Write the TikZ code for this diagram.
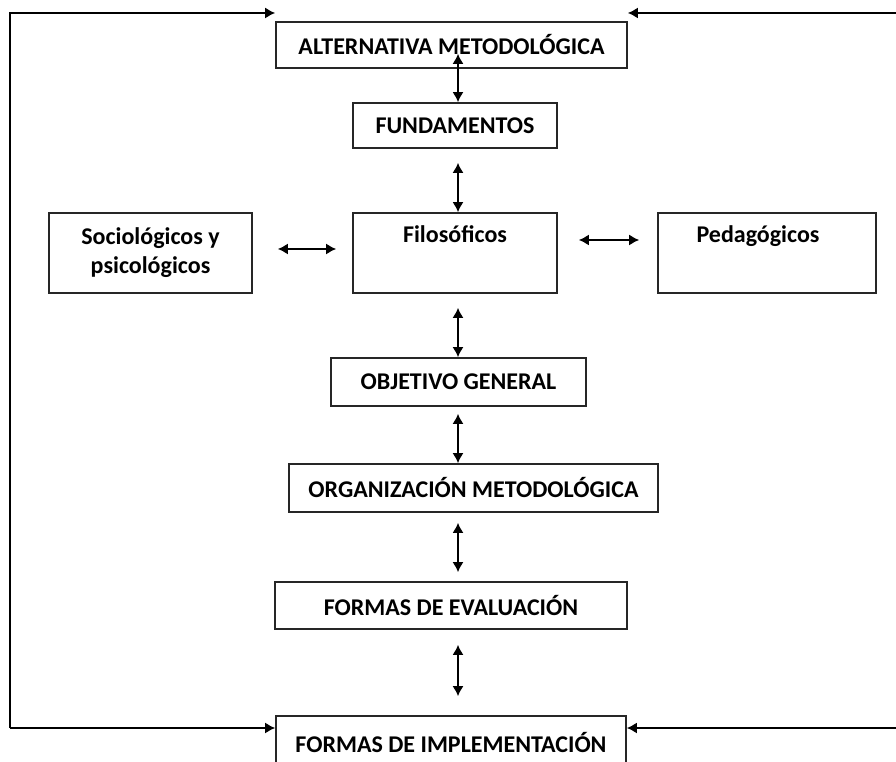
\documentclass[tikz,border=0pt]{standalone}
\usepackage{fontspec}
\setmainfont{Carlito}
\usetikzlibrary{arrows.meta,positioning,calc}

\begin{document}
\begin{tikzpicture}[
  x=1pt,y=1pt,
  every node/.style={font=\bfseries\fontsize{24}{29}\selectfont},
  mbox/.style={draw=black!85,line width=1.6pt,align=center,inner sep=0pt},
  arr/.style={arrows={Latex[length=10pt,width=11pt]-Latex[length=10pt,width=11pt]},line width=1.6pt},
  fback/.style={arrows={-Latex[length=10pt,width=11pt]},line width=1.6pt}
]
\clip (0,0) rectangle (896,761);
\coordinate (axis) at (458,0);
\node[mbox,minimum width=351pt,minimum height=46pt] (alt) at (451.5,716) {ALTERNATIVA METODOLÓGICA};
\node[mbox,minimum width=204pt,minimum height=45pt] (fund) at (455,635.5) {FUNDAMENTOS};
\node[mbox,minimum width=204pt,minimum height=80pt] (filo) at (455,508) {Filosóficos\\\strut};
\node[mbox,minimum width=203pt,minimum height=80pt] (socio) at (150.5,508) {Sociológicos y\\psicológicos};
\node[mbox,minimum width=218pt,minimum height=80pt] (peda) at (767,508) {Pedagógicos\hspace*{18pt}\\\strut};
\node[mbox,minimum width=255pt,minimum height=48pt] (obj) at (458.5,379) {OBJETIVO GENERAL};
\node[mbox,minimum width=369pt,minimum height=48pt] (org) at (473.5,273) {ORGANIZACIÓN METODOLÓGICA};
\node[mbox,minimum width=352pt,minimum height=47pt] (eval) at (451,155.5) {FORMAS DE EVALUACIÓN};
\node[mbox,minimum width=350pt,minimum height=52pt] (impl) at (451,19) {FORMAS DE IMPLEMENTACIÓN};

\draw[arr] ($(alt.south -| axis)+(0,15)$) -- (fund.north -| axis);
\draw[arr,shorten <=14pt] (fund.south -| axis) -- (filo.north -| axis);
\draw[arr,shorten <=14pt] (filo.south -| axis) -- (obj.north -| axis);
\draw[arr,shorten <=7pt] (obj.south -| axis) -- (org.north -| axis);
\draw[arr,shorten <=10pt,shorten >=9pt] (org.south -| axis) -- (eval.north -| axis);
\draw[arr,shorten <=15pt,shorten >=19pt] (eval.south -| axis) -- (impl.north -| axis);
\draw[arr,shorten <=25pt,shorten >=16pt] ($(socio.east)+(0,4)$) -- ($(filo.west)+(0,4)$);
\draw[arr,shorten <=21pt,shorten >=18pt] ($(filo.east)+(0,13)$) -- ($(peda.west)+(0,13)$);

\coordinate (topL) at (10,748);
\coordinate (botL) at (10,33);
\coordinate (topR) at (896,748);
\coordinate (botR) at (896,33);
\draw[fback] (botL) -- (topL) -- (topL -| alt.west);
\draw[fback] (botL) -- (botL -| impl.west);
\draw[fback] (topR) -- (topR -| alt.east);
\draw[fback] (botR) -- (botR -| impl.east);
\end{tikzpicture}
\end{document}
